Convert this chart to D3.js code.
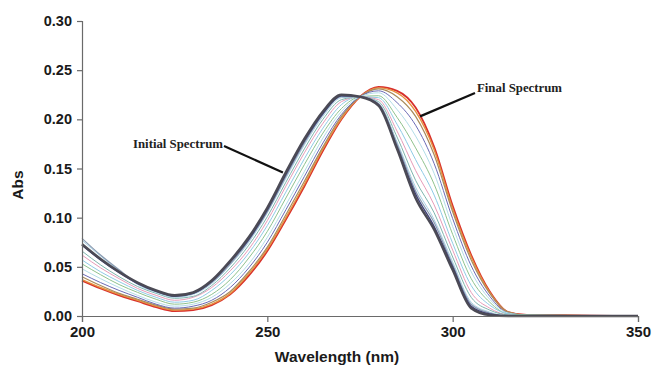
<!DOCTYPE html>
<html>
<head>
<meta charset="utf-8">
<script src="https://cdn.jsdelivr.net/npm/d3@7"></script>
<style>
  body { margin: 0; background: #fff; }
  .tick text { font-family: "Liberation Sans", Arial, sans-serif; font-weight: bold; }
</style>
</head>
<body>
<div id="chart"></div>
<script>
// wavelength grid (nm) shared by every scan
const wavelengths = [200, 205, 210, 215, 220, 225, 230, 235, 240, 245, 250, 255, 260, 265, 270, 275, 280, 285, 290, 295, 300, 305, 310, 315, 320, 350];

// absorbance per scan, first = initial spectrum, last = final spectrum
const scanInitial = [0.073, 0.058, 0.045, 0.034, 0.026, 0.021, 0.024, 0.036, 0.056, 0.080, 0.110, 0.146, 0.180, 0.208, 0.225, 0.223, 0.214, 0.170, 0.120, 0.088, 0.047, 0.008, 0.001, 0, 0, 0];
const scan02 = [0.072, 0.057, 0.044, 0.033, 0.025, 0.020, 0.023, 0.035, 0.055, 0.078, 0.108, 0.144, 0.178, 0.206, 0.224, 0.223, 0.215, 0.172, 0.124, 0.091, 0.050, 0.010, 0.002, 0, 0, 0];
const scan03 = [0.079, 0.062, 0.047, 0.033, 0.025, 0.020, 0.023, 0.034, 0.053, 0.077, 0.106, 0.142, 0.176, 0.205, 0.223, 0.223, 0.216, 0.175, 0.127, 0.095, 0.052, 0.012, 0.003, 0, 0, 0];
const scan04 = [0.077, 0.061, 0.046, 0.032, 0.024, 0.019, 0.022, 0.033, 0.052, 0.075, 0.105, 0.140, 0.174, 0.203, 0.222, 0.223, 0.216, 0.177, 0.131, 0.098, 0.055, 0.014, 0.004, 0, 0, 0];
const scan05 = [0.066, 0.052, 0.040, 0.030, 0.023, 0.018, 0.020, 0.031, 0.049, 0.072, 0.101, 0.136, 0.170, 0.200, 0.220, 0.223, 0.218, 0.182, 0.138, 0.105, 0.060, 0.019, 0.006, 0.001, 0, 0];
const scan06 = [0.062, 0.049, 0.038, 0.028, 0.021, 0.016, 0.019, 0.029, 0.046, 0.068, 0.097, 0.132, 0.166, 0.196, 0.218, 0.223, 0.220, 0.188, 0.148, 0.113, 0.067, 0.024, 0.008, 0.001, 0, 0];
const scan07 = [0.057, 0.045, 0.035, 0.026, 0.019, 0.014, 0.016, 0.026, 0.042, 0.064, 0.092, 0.126, 0.160, 0.191, 0.215, 0.223, 0.222, 0.195, 0.159, 0.123, 0.074, 0.031, 0.011, 0.002, 0, 0];
const scan08 = [0.053, 0.042, 0.032, 0.024, 0.017, 0.012, 0.014, 0.022, 0.037, 0.059, 0.086, 0.120, 0.154, 0.186, 0.211, 0.223, 0.224, 0.202, 0.171, 0.134, 0.083, 0.038, 0.014, 0.002, 0.001, 0];
const scan09 = [0.048, 0.038, 0.029, 0.021, 0.014, 0.010, 0.012, 0.019, 0.033, 0.053, 0.080, 0.113, 0.147, 0.181, 0.208, 0.223, 0.227, 0.210, 0.183, 0.145, 0.091, 0.045, 0.017, 0.003, 0.001, 0];
const scan10 = [0.043, 0.034, 0.026, 0.019, 0.012, 0.008, 0.010, 0.016, 0.029, 0.049, 0.075, 0.108, 0.142, 0.176, 0.205, 0.223, 0.229, 0.217, 0.194, 0.155, 0.099, 0.051, 0.020, 0.003, 0.001, 0];
const scan11 = [0.040, 0.031, 0.023, 0.017, 0.011, 0.007, 0.008, 0.014, 0.025, 0.045, 0.070, 0.103, 0.137, 0.172, 0.203, 0.223, 0.231, 0.223, 0.203, 0.164, 0.106, 0.057, 0.023, 0.004, 0.001, 0];
const scan12 = [0.037, 0.029, 0.022, 0.016, 0.010, 0.006, 0.007, 0.012, 0.023, 0.043, 0.068, 0.100, 0.134, 0.170, 0.201, 0.223, 0.232, 0.227, 0.208, 0.169, 0.109, 0.060, 0.024, 0.004, 0.001, 0];
const scanFinal = [0.036, 0.028, 0.021, 0.015, 0.009, 0.005, 0.006, 0.011, 0.022, 0.041, 0.066, 0.098, 0.132, 0.168, 0.200, 0.223, 0.233, 0.229, 0.212, 0.172, 0.112, 0.062, 0.025, 0.004, 0.001, 0];

const scans = [scanInitial, scan02, scan03, scan04, scan05, scan06, scan07, scan08, scan09, scan10, scan11, scan12, scanFinal];

// axis ticks
const xTicks = [200, 250, 300, 350];
const yTicks = [0, 0.05, 0.10, 0.15, 0.20, 0.25, 0.30];

// callouts: label and the (wavelength, abs) point the leader line touches
const calloutLabels = ['Initial Spectrum', 'Final Spectrum'];
const calloutPoints = [[254.2, 0.146], [291.2, 0.203]];

// line styling per scan (kept apart from the data)
const scanColors = ['#4b4a55', '#3d3f78', '#8a9ab0', '#a9d3e6', '#7fb5ae', '#e79bb8', '#8fcbe6', '#8fc28d', '#b3dde8', '#6b6bb5', '#a88b5c', '#e8913f', '#d8302c'];
const scanWidths = [2.6, 1.4, 1.2, 1, 1, 1, 1, 1, 1, 1, 1.2, 1.4, 1.8];

const margin = { top: 21, right: 14, bottom: 50, left: 82 };
const width = 652 - margin.left - margin.right;
const height = 366 - margin.top - margin.bottom;

const svg = d3.select('#chart')
  .append('svg')
  .attr('width', 652)
  .attr('height', 366)
  .style('background', '#fff');

const g = svg.append('g')
  .attr('transform', `translate(${margin.left},${margin.top})`);

// Set the ranges
const x = d3.scaleLinear().domain([200, 350]).range([0, 556]);
const y = d3.scaleLinear().domain([0, 0.30]).range([height, 0]);

const line = d3.line()
  .x((d, i) => x(wavelengths[i]))
  .y(d => y(d))
  .curve(d3.curveMonotoneX);

// draw the scans, initial on top at the end so the dark band shows
const order = [12, 11, 10, 9, 8, 7, 6, 5, 4, 3, 2, 1, 0];
order.forEach(i => {
  g.append('path')
    .attr('d', line(scans[i]))
    .style('fill', 'none')
    .style('stroke', scanColors[i])
    .style('stroke-width', scanWidths[i])
    .style('stroke-linejoin', 'round');
});

// Add the X Axis
const xAxis = d3.axisBottom(x).tickValues(xTicks).tickSize(6).tickPadding(4).tickFormat(d3.format('d'));
const gx = g.append('g')
  .attr('transform', `translate(0,${height})`)
  .call(xAxis);
gx.selectAll('text').style('font-size', '15px').attr('fill', '#1a1a1a');

// Add the Y Axis
const yAxis = d3.axisLeft(y).tickValues(yTicks).tickSize(5).tickPadding(5).tickFormat(d3.format('.2f'));
const gy = g.append('g').call(yAxis);
gy.selectAll('text').style('font-size', '14.5px').attr('fill', '#1a1a1a');

[gx, gy].forEach(a => {
  a.select('.domain').attr('stroke', '#6a6a6a').attr('stroke-width', 1.2);
  a.selectAll('.tick line').attr('stroke', '#6a6a6a').attr('stroke-width', 1.2);
});

// axis titles
svg.append('text')
  .attr('x', 337)
  .attr('y', 362)
  .attr('text-anchor', 'middle')
  .style('font-family', '"Liberation Sans", Arial, sans-serif')
  .style('font-weight', 'bold')
  .style('font-size', '15.5px')
  .attr('fill', '#1a1a1a')
  .text('Wavelength (nm)');

svg.append('text')
  .attr('transform', 'translate(23,185) rotate(-90)')
  .attr('text-anchor', 'middle')
  .style('font-family', '"Liberation Sans", Arial, sans-serif')
  .style('font-weight', 'bold')
  .style('font-size', '15.5px')
  .attr('fill', '#1a1a1a')
  .text('Abs');

// callouts
const labelPos = [[133, 148, 'start', 224, 146], [477, 92, 'start', 475, 93]];
calloutLabels.forEach((t, i) => {
  const p = labelPos[i];
  svg.append('path')
    .attr('d', `M${p[3]},${p[4]}L${margin.left + x(calloutPoints[i][0])},${margin.top + y(calloutPoints[i][1])}`)
    .style('stroke', '#111')
    .style('stroke-width', 2.2)
    .style('fill', 'none');
  svg.append('text')
    .attr('x', p[0])
    .attr('y', p[1])
    .attr('text-anchor', p[2])
    .style('font-family', '"Liberation Serif", "Times New Roman", serif')
    .style('font-weight', 'bold')
    .style('font-size', '12.8px')
    .attr('fill', '#222')
    .text(t);
});
</script>
</body>
</html>
